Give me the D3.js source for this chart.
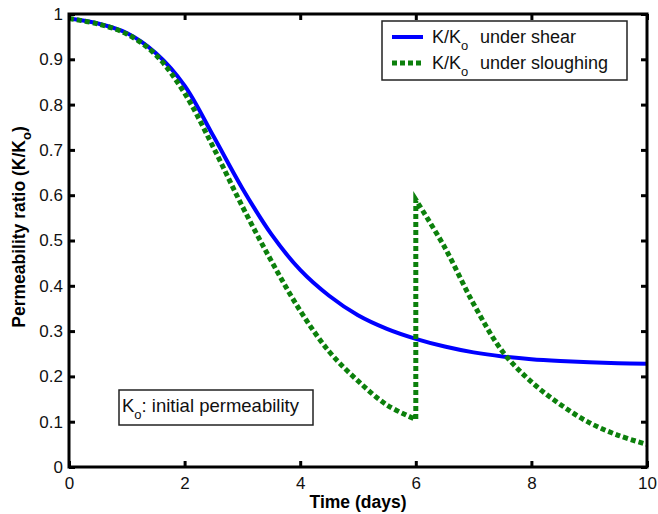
<!DOCTYPE html>
<html>
<head>
<meta charset="utf-8">
<script src="https://cdn.jsdelivr.net/npm/d3@7"></script>
<style>
  body { margin: 0; background: #fff; }
  svg { display: block; font-family: "Liberation Sans", Arial, sans-serif; }
</style>
</head>
<body>
<svg id="chart" width="658" height="514"></svg>
<script>
// dati
const shearT = [0, 0.5, 1, 1.5, 2, 2.5, 3, 3.5, 4, 4.5, 5, 5.5, 6, 6.5, 7, 7.5, 8, 8.5, 9, 9.5, 10];
const shearK = [0.99, 0.979, 0.958, 0.914, 0.842, 0.73, 0.615, 0.514, 0.435, 0.378, 0.335, 0.305, 0.283, 0.266, 0.253, 0.244, 0.238, 0.234, 0.231, 0.229, 0.228];

const sloughT = [0, 0.5, 1, 1.5, 2, 2.5, 3, 3.5, 4, 4.5, 5, 5.5, 6, 6, 6.5, 7, 7.5, 8, 8.5, 9, 9.5, 10];
const sloughK = [0.99, 0.978, 0.956, 0.91, 0.825, 0.705, 0.575, 0.455, 0.345, 0.255, 0.19, 0.137, 0.105, 0.59, 0.485, 0.36, 0.255, 0.188, 0.138, 0.098, 0.07, 0.05];

const xTicks = [0, 2, 4, 6, 8, 10];
const yTicks = [0, 0.1, 0.2, 0.3, 0.4, 0.5, 0.6, 0.7, 0.8, 0.9, 1];

const margin = { left: 69, right: 11, top: 14, bottom: 47 };
const W = 658, H = 514;

const svg = d3.select("#chart");

const x = d3.scaleLinear().domain([0, 10]).range([margin.left, W - margin.right]);
const y = d3.scaleLinear().domain([0, 1]).range([H - margin.bottom, margin.top]);

const fmtY = d => d === 0 || d === 1 ? String(d) : d.toFixed(1);

// linee
const shearData = shearT.map((t, i) => ({ t, k: shearK[i] }));
const sloughData = sloughT.map((t, i) => ({ t, k: sloughK[i] }));

const lineSmooth = d3.line().x(d => x(d.t)).y(d => y(d.k)).curve(d3.curveCatmullRom.alpha(0.5));

svg.append("path")
  .datum(shearData)
  .attr("fill", "none")
  .attr("stroke", "#0000ff")
  .attr("stroke-width", 4)
  .attr("d", lineSmooth);

// sloughing: due tratti + salto verticale a t=6
const before = sloughData.slice(0, 13);
const after = sloughData.slice(13);
const sloughPath = lineSmooth(before) + "L" + lineSmooth(after).slice(1);
svg.append("path")
  .attr("fill", "none")
  .attr("stroke", "#0c800c")
  .attr("stroke-width", 5)
  .attr("stroke-dasharray", "5,3")
  .attr("d", sloughPath);

// assi (tick verso l'interno, su tutti i lati)
const tickLen = 6;
const axB = svg.append("g").attr("transform", `translate(0,${y(0)})`)
  .call(d3.axisBottom(x).tickValues(xTicks).tickSize(-tickLen).tickPadding(tickLen + 4));
const axT = svg.append("g").attr("transform", `translate(0,${y(1)})`)
  .call(d3.axisTop(x).tickValues(xTicks).tickSize(-tickLen).tickFormat(""));
const axL = svg.append("g").attr("transform", `translate(${x(0)},0)`)
  .call(d3.axisLeft(y).tickValues(yTicks).tickSize(-tickLen).tickPadding(tickLen).tickFormat(fmtY));
const axR = svg.append("g").attr("transform", `translate(${x(10)},0)`)
  .call(d3.axisRight(y).tickValues(yTicks).tickSize(-tickLen).tickFormat(""));

[axB, axT, axL, axR].forEach(g => {
  g.select(".domain").remove();
  g.selectAll(".tick line").attr("stroke", "#000").attr("stroke-width", 3);
  g.selectAll(".tick text").attr("fill", "#111").attr("font-size", 17).attr("font-family", "Liberation Sans, Arial, sans-serif");
});

svg.append("rect")
  .attr("x", x(0)).attr("y", y(1))
  .attr("width", x(10) - x(0)).attr("height", y(0) - y(1))
  .attr("fill", "none").attr("stroke", "#000").attr("stroke-width", 3);

// titoli assi
svg.append("text")
  .attr("x", (x(0) + x(10)) / 2).attr("y", 508)
  .attr("text-anchor", "middle")
  .attr("font-size", 17.5).attr("font-weight", "bold")
  .text("Time (days)");

const yl = svg.append("text")
  .attr("transform", `translate(25,227) rotate(-90)`)
  .attr("text-anchor", "middle")
  .attr("font-size", 17.5).attr("font-weight", "bold");
yl.append("tspan").text("Permeability ratio (K/K");
yl.append("tspan").attr("font-size", 13).attr("dy", 6).text("o");
yl.append("tspan").attr("dy", -6).text(")");

// legenda
const leg = svg.append("g");
leg.append("rect")
  .attr("x", 382).attr("y", 21).attr("width", 245).attr("height", 59)
  .attr("fill", "#fff").attr("stroke", "#222").attr("stroke-width", 1.5);

const legItems = [
  { label: "under shear", color: "#0000ff", dash: null, w: 4, yy: 37 },
  { label: "under sloughing", color: "#0c800c", dash: "5,3", w: 5, yy: 63 }
];
legItems.forEach(it => {
  leg.append("line")
    .attr("x1", 392).attr("x2", 423).attr("y1", it.yy).attr("y2", it.yy)
    .attr("stroke", it.color).attr("stroke-width", it.w)
    .attr("stroke-dasharray", it.dash);
  const t = leg.append("text").attr("x", 432).attr("y", it.yy + 6).attr("font-size", 18).attr("fill", "#111");
  t.append("tspan").text("K/K");
  t.append("tspan").attr("font-size", 13).attr("dy", 7).text("o");
  t.append("tspan").attr("dy", -7).attr("x", 480).text(it.label);
});

// nota K0
svg.append("rect")
  .attr("x", 119).attr("y", 390).attr("width", 194).attr("height", 35)
  .attr("fill", "#fff").attr("stroke", "#222").attr("stroke-width", 1.5);
const note = svg.append("text").attr("x", 122).attr("y", 412).attr("font-size", 18.5).attr("fill", "#111");
note.append("tspan").text("K");
note.append("tspan").attr("font-size", 13).attr("dy", 7).text("o");
note.append("tspan").attr("dy", -7).text(": initial permeability");
</script>
</body>
</html>
